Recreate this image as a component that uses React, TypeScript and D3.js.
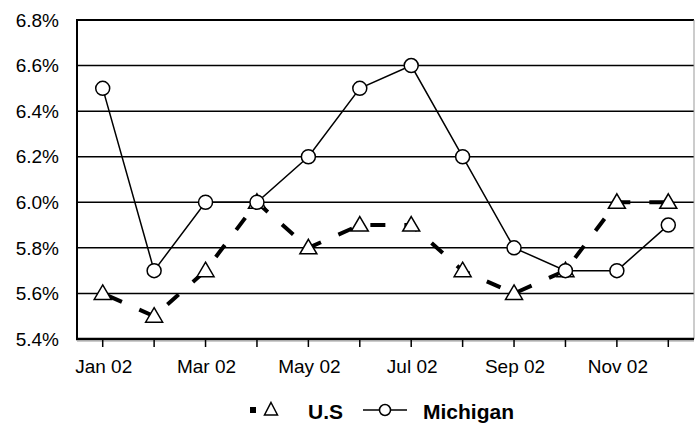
import React from "react";
import * as d3 from "d3";

const months = ["Jan 02","Feb 02","Mar 02","Apr 02","May 02","Jun 02","Jul 02","Aug 02","Sep 02","Oct 02","Nov 02","Dec 02"];
const shownLabels = ["Jan 02","Mar 02","May 02","Jul 02","Sep 02","Nov 02"];
const usValues = [5.6,5.5,5.7,6.0,5.8,5.9,5.9,5.7,5.6,5.7,6.0,6.0];
const michiganValues = [6.5,5.7,6.0,6.0,6.2,6.5,6.6,6.2,5.8,5.7,5.7,5.9];
const yTicks = [5.4,5.6,5.8,6.0,6.2,6.4,6.6,6.8];

const W = 695, H = 426;
const left = 77, right = 694, top = 20, bottom = 339;

export default function App() {
  const x = d3.scaleBand<string>().domain(months).range([left, right]);
  const xc = (m: string) => (x(m) as number) + x.bandwidth() / 2;
  const y = d3.scaleLinear().domain([5.4, 6.8]).range([bottom, top]);
  const line = d3.line<number>().x((_, i) => xc(months[i])).y(d => y(d));
  const font = "'Liberation Sans', Arial, sans-serif";

  const tri = (cx: number, cy: number, s = 8) =>
    `M${cx},${cy - s}L${cx + s},${cy + 6}L${cx - s},${cy + 6}Z`;

  return (
    <svg width={W} height={H} style={{ position: "absolute", left: 0, top: 0, background: "#fff" }}>
      {yTicks.map(t => (
        <line key={t} x1={left} x2={right} y1={y(t)} y2={y(t)} stroke="#000" strokeWidth={t === 6.8 ? 2 : 1.5} />
      ))}
      <line x1={right} x2={right} y1={top} y2={bottom} stroke="#999" strokeWidth={1} />
      <line x1={left} x2={left} y1={top - 1} y2={bottom + 1} stroke="#000" strokeWidth={2} />
      {yTicks.map(t => (
        <text key={t} x={59} y={y(t)} dy="0.35em" textAnchor="end" fontFamily={font} fontSize={19} fill="#000">
          {t.toFixed(1)}%
        </text>
      ))}
      <line x1={left - 1} x2={right} y1={bottom} y2={bottom} stroke="#000" strokeWidth={2.5} />
      <line x1={left} x2={right} y1={bottom + 2} y2={bottom + 2} stroke="#999" strokeWidth={1} />
      {months.map(m => (
        <line key={m} x1={xc(m)} x2={xc(m)} y1={bottom} y2={bottom + 8} stroke="#000" strokeWidth={1.5} />
      ))}
      {shownLabels.map(m => (
        <text key={m} x={xc(m) + 1} y={373} textAnchor="middle" fontFamily={font} fontSize={19} fill="#000">{m}</text>
      ))}
      <path d={line(usValues) || ""} fill="none" stroke="#000" strokeWidth={4} strokeDasharray="15,19" strokeDashoffset={-6} />
      <path d={line(michiganValues) || ""} fill="none" stroke="#000" strokeWidth={1.5} />
      {usValues.map((v, i) => (
        <path key={"u" + i} d={tri(xc(months[i]), y(v), 8.5)} fill="#fff" stroke="#000" strokeWidth={1.5} />
      ))}
      {michiganValues.map((v, i) => (
        <circle key={"m" + i} cx={xc(months[i])} cy={y(v)} r={7} fill="#fff" stroke="#000" strokeWidth={1.5} />
      ))}
      <rect x={250} y={407} width={6} height={6} fill="#000" />
      <path d={tri(271, 410, 6.5)} transform="translate(0,-1)" fill="#fff" stroke="#000" strokeWidth={1.5} />
      <text x={308} y={419} fontFamily={font} fontSize={21} fontWeight="bold" fill="#000">U.S</text>
      <line x1={363} x2={407} y1={410} y2={410} stroke="#000" strokeWidth={1.5} />
      <circle cx={385} cy={410} r={5.5} fill="#fff" stroke="#000" strokeWidth={1.5} />
      <text x={423} y={419} fontFamily={font} fontSize={21} fontWeight="bold" fill="#000">Michigan</text>
    </svg>
  );
}
